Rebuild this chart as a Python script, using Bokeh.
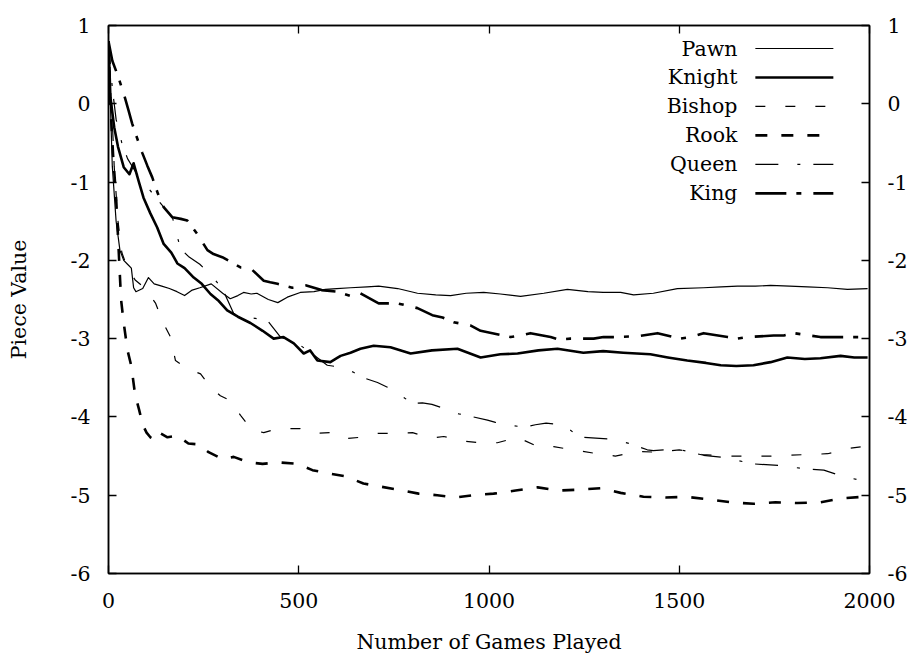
from bokeh.plotting import figure
from bokeh.models import LinearAxis, Range1d, FixedTicker, Label
from bokeh.embed import file_html
from bokeh.resources import INLINE

# ---------------- data ----------------
x_ticks = [0, 500, 1000, 1500, 2000]
y_ticks = [-6, -5, -4, -3, -2, -1, 0, 1]

pawn_x = [0, 5, 10, 20, 30, 40, 50, 60, 66, 72, 90, 105, 120, 140, 160, 180, 200, 220, 240, 270,
          300, 320, 340, 355, 375, 390, 420, 445, 470, 504, 540, 570, 600, 636, 680, 710, 760, 812,
          860, 899, 940, 986, 1030, 1083, 1144, 1206, 1260, 1300, 1346, 1380, 1432, 1495, 1564,
          1610, 1653, 1700, 1740, 1790, 1837, 1890, 1942, 1995]
pawn_v = [0.8, 0.0, -0.8, -1.5, -1.87, -2.0, -2.05, -2.1, -2.35, -2.4, -2.36, -2.22, -2.3, -2.33,
          -2.36, -2.4, -2.45, -2.38, -2.35, -2.3, -2.42, -2.49, -2.45, -2.41, -2.43, -2.42, -2.5,
          -2.54, -2.47, -2.41, -2.4, -2.37, -2.36, -2.35, -2.34, -2.33, -2.36, -2.42, -2.44, -2.45,
          -2.42, -2.41, -2.43, -2.46, -2.42, -2.37, -2.4, -2.41, -2.41, -2.44, -2.42, -2.36, -2.35,
          -2.34, -2.33, -2.33, -2.32, -2.33, -2.34, -2.35, -2.37, -2.36]

knight_x = [0, 5, 15, 25, 40, 55, 66, 80, 92, 110, 128, 145, 165, 181, 200, 224, 245, 268, 290,
            312, 340, 373, 405, 434, 460, 487, 513, 530, 549, 583, 600, 610, 636, 662, 697, 741,
            794, 850, 917, 978, 1030, 1075, 1130, 1180, 1248, 1300, 1353, 1424, 1470, 1521, 1570,
            1609, 1650, 1695, 1740, 1784, 1830, 1871, 1924, 1960, 1995]
knight_v = [0.8, 0.08, -0.3, -0.55, -0.81, -0.9, -0.76, -1.0, -1.2, -1.4, -1.58, -1.79, -1.9,
            -2.04, -2.1, -2.22, -2.3, -2.43, -2.52, -2.64, -2.72, -2.8, -2.9, -3.0, -2.98, -3.06,
            -3.19, -3.15, -3.28, -3.3, -3.25, -3.22, -3.18, -3.13, -3.09, -3.11, -3.19, -3.15,
            -3.13, -3.24, -3.2, -3.19, -3.15, -3.13, -3.18, -3.16, -3.18, -3.2, -3.24, -3.28,
            -3.31, -3.34, -3.35, -3.34, -3.3, -3.24, -3.26, -3.25, -3.22, -3.24, -3.24]

bishop_x = [0, 8, 15, 25, 35, 50, 70, 95, 124, 141, 163, 176, 207, 242, 268, 294, 320, 347, 378,
            408, 444, 470, 504, 539, 583, 618, 662, 707, 749, 799, 846, 881, 933, 978, 1022, 1075,
            1128, 1170, 1233, 1285, 1332, 1390, 1440, 1500, 1560, 1620, 1680, 1740, 1784, 1840,
            1890, 1950, 1980]
bishop_v = [0.8, 0.0, -0.8, -1.5, -1.9, -2.1, -2.25, -2.35, -2.55, -2.77, -2.98, -3.28, -3.38,
            -3.45, -3.62, -3.73, -3.79, -3.98, -4.17, -4.2, -4.15, -4.15, -4.15, -4.21, -4.2,
            -4.28, -4.26, -4.21, -4.21, -4.2, -4.27, -4.25, -4.31, -4.33, -4.33, -4.26, -4.38,
            -4.38, -4.43, -4.47, -4.5, -4.44, -4.45, -4.42, -4.48, -4.5, -4.5, -4.5, -4.49,
            -4.48, -4.47, -4.4, -4.38]

rook_x = [0, 5, 12, 20, 28, 33, 40, 50, 60, 70, 80, 90, 100, 110, 124, 137, 155, 181, 210, 237,
          263, 300, 329, 368, 405, 447, 497, 536, 578, 623, 670, 715, 762, 815, 864, 912, 959,
          1012, 1070, 1128, 1180, 1235, 1293, 1346, 1406, 1464, 1516, 1574, 1635, 1695, 1753,
          1811, 1871, 1929, 1984, 2000]
rook_v = [0.8, 0.0, -0.65, -1.2, -2.0, -2.5, -2.8, -3.15, -3.35, -3.72, -3.9, -4.1, -4.2, -4.26,
          -4.3, -4.21, -4.26, -4.24, -4.34, -4.35, -4.45, -4.54, -4.51, -4.58, -4.6, -4.58, -4.6,
          -4.68, -4.72, -4.76, -4.85, -4.89, -4.93, -4.98, -5.0, -5.03, -5.0, -4.98, -4.94, -4.9,
          -4.94, -4.93, -4.91, -4.97, -5.02, -5.03, -5.02, -5.05, -5.09, -5.11, -5.09, -5.1,
          -5.09, -5.04, -5.02, -5.0]

queen_x = [0, 10, 20, 35, 50, 75, 100, 125, 150, 168, 189, 210, 240, 276, 302, 329, 373, 418,
           452, 497, 531, 575, 618, 644, 670, 707, 733, 767, 799, 825, 850, 899, 920, 950, 996,
           1017, 1040, 1096, 1122, 1150, 1196, 1222, 1250, 1311, 1332, 1370, 1416, 1432, 1495,
           1564, 1620, 1695, 1760, 1827, 1880, 1924, 1976, 1995]
queen_v = [0.8, 0.2, -0.2, -0.5, -0.7, -0.9, -1.05, -1.2, -1.35, -1.45, -1.85, -1.95, -2.05,
           -2.22, -2.39, -2.68, -2.73, -2.77, -2.98, -3.06, -3.18, -3.34, -3.37, -3.43, -3.5,
           -3.56, -3.62, -3.72, -3.83, -3.82, -3.84, -3.92, -3.96, -3.99, -4.04, -4.07, -4.1,
           -4.13, -4.1, -4.08, -4.1, -4.2, -4.26, -4.28, -4.3, -4.34, -4.42, -4.43, -4.41,
           -4.49, -4.52, -4.6, -4.62, -4.66, -4.68, -4.75, -4.81, -4.82]

king_x = [0, 10, 26, 40, 53, 62, 71, 89, 102, 115, 130, 145, 168, 190, 207, 233, 260, 276, 299,
          329, 347, 373, 408, 425, 444, 483, 520, 560, 600, 645, 662, 710, 760, 812, 851, 878, 907,
          951, 978, 1009, 1057, 1083, 1109, 1162, 1183, 1214, 1275, 1301, 1327, 1390, 1443, 1503,
          1530, 1564, 1627, 1653, 1679, 1748, 1775, 1801, 1871, 1897, 1932, 1995]
king_v = [0.8, 0.55, 0.34, 0.13, -0.09, -0.25, -0.38, -0.63, -0.79, -0.94, -1.15, -1.32, -1.45,
          -1.47, -1.49, -1.66, -1.87, -1.92, -1.96, -2.04, -2.09, -2.1, -2.26, -2.28, -2.3,
          -2.35, -2.32, -2.38, -2.4, -2.47, -2.42, -2.55, -2.55, -2.61, -2.7, -2.73, -2.79,
          -2.83, -2.9, -2.93, -2.98, -2.96, -2.93, -2.98, -3.01, -3.0, -3.0, -2.98, -2.98,
          -2.97, -2.93, -3.0, -2.98, -2.93, -2.98, -3.0, -2.98, -2.96, -2.96, -2.93, -2.98,
          -2.98, -2.98, -2.98]

names = ["Pawn", "Knight", "Bishop", "Rook", "Queen", "King"]

# ---------------- styling ----------------
FONT = "DejaVu Serif"
FS = "20.5px"
styles = {
    "Pawn":   dict(line_width=1.2, line_dash="solid"),
    "Knight": dict(line_width=2.6, line_dash="solid"),
    "Bishop": dict(line_width=1.2, line_dash="10 20"),
    "Rook":   dict(line_width=2.6, line_dash="12 14"),
    "Queen":  dict(line_width=1.2, line_dash="23 19 3 13"),
    "King":   dict(line_width=2.6, line_dash="31 10 5 12"),
}
series = {
    "Pawn": (pawn_x, pawn_v), "Knight": (knight_x, knight_v), "Bishop": (bishop_x, bishop_v),
    "Rook": (rook_x, rook_v), "Queen": (queen_x, queen_v), "King": (king_x, king_v),
}

p = figure(width=910, height=657, x_range=Range1d(0, 2000), y_range=Range1d(-6, 1),
           output_backend="svg", toolbar_location=None,
           min_border_left=108, min_border_right=41, min_border_top=25, min_border_bottom=84,
           x_axis_label="Number of Games Played", y_axis_label="Piece Value")
p.grid.visible = False
p.outline_line_color = "black"
p.outline_line_width = 1.5
p.background_fill_color = "white"
p.border_fill_color = "white"


def style_axis(ax, ticks, show_labels=True, standoff=18):
    ax.ticker = FixedTicker(ticks=ticks)
    ax.major_tick_in = 8
    ax.major_tick_out = 0
    ax.minor_tick_line_color = None
    ax.major_tick_line_color = "black"
    ax.major_tick_line_width = 1.3
    ax.axis_line_color = "black"
    ax.axis_line_width = 1.5
    ax.major_label_text_font = FONT
    ax.major_label_overrides = {t: str(t) for t in ticks}
    if show_labels:
        ax.major_label_text_color = "black"
        ax.major_label_text_font_size = FS
        ax.major_label_standoff = standoff
    else:
        ax.major_label_text_color = None
        ax.major_label_text_font_size = "0px"
        ax.major_label_standoff = 0
    ax.axis_label_text_font = FONT
    ax.axis_label_text_font_size = FS
    ax.axis_label_text_font_style = "normal"
    ax.axis_label_text_color = "black"


style_axis(p.xaxis[0], x_ticks, standoff=19)
p.xaxis[0].axis_label_standoff = 19
style_axis(p.yaxis[0], y_ticks, standoff=18)
p.yaxis[0].axis_label_standoff = 37

right_axis = LinearAxis()
style_axis(right_axis, y_ticks, standoff=18)
p.add_layout(right_axis, "right")

top_axis = LinearAxis()
style_axis(top_axis, x_ticks, show_labels=False)
p.add_layout(top_axis, "above")

for name in names:
    xs, vs = series[name]
    p.line(xs, vs, line_color="black", line_join="round", **styles[name])

# ---------------- legend (gnuplot style: label left, sample right) ----------------
LEG_TEXT_X = 1653
LEG_X0, LEG_X1 = 1700, 1905
LEG_TOP = 0.706
LEG_STEP = 0.37
for i, name in enumerate(names):
    yy = LEG_TOP - i * LEG_STEP
    p.add_layout(Label(x=LEG_TEXT_X, y=yy, text=name, text_align="right",
                       text_baseline="middle", text_font=FONT, text_font_size=FS,
                       text_color="black"))
    p.line([LEG_X0, LEG_X1], [yy, yy], line_color="black", **styles[name])

open("out.html", "w").write(file_html(p, INLINE))
